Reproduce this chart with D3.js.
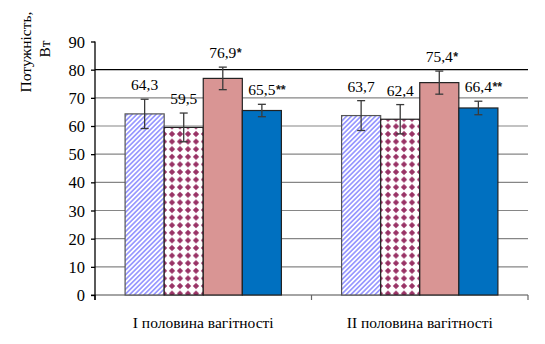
<!DOCTYPE html>
<html>
<head>
<meta charset="utf-8">
<script src="https://cdn.jsdelivr.net/npm/d3@7"></script>
<style>
  html, body { margin: 0; padding: 0; background: #fff; }
</style>
</head>
<body>
<svg id="chart" width="545" height="344"></svg>
<script>
// ---- data ----
const categories = ["І половина вагітності", "ІІ половина вагітності"];
const seriesNames = ["s1", "s2", "s3", "s4"];
const series1 = [64.3, 63.7];
const series2 = [59.5, 62.4];
const series3 = [76.9, 75.4];
const series4 = [65.5, 66.4];
const errors1 = [5.2, 5.3];
const errors2 = [5.1, 5.2];
const errors3 = [4.0, 4.1];
const errors4 = [2.2, 2.4];
const marks1 = ["", ""];
const marks2 = ["", ""];
const marks3 = ["*", "*"];
const marks4 = ["**", "**"];
const yTicks = [0, 10, 20, 30, 40, 50, 60, 70, 80, 90];
const yTitle = ["Потужність,", "Вт"];

const values = [series1, series2, series3, series4];
const errors = [errors1, errors2, errors3, errors4];
const marks = [marks1, marks2, marks3, marks4];

const SERIF = '"Liberation Serif"';
const SANS = '"Liberation Sans"';

const svg = d3.select("#chart");
const defs = svg.append("defs");

// patterns
const p1 = defs.append("pattern").attr("id", "stripes").attr("patternUnits", "userSpaceOnUse")
  .attr("width", 3.4).attr("height", 4).attr("patternTransform", "rotate(45)");
p1.append("rect").attr("width", 3.4).attr("height", 4).attr("fill", "#fff");
p1.append("rect").attr("width", 1.7).attr("height", 4).attr("fill", "#9999ff");

const p2 = defs.append("pattern").attr("id", "diamonds").attr("patternUnits", "userSpaceOnUse")
  .attr("width", 8).attr("height", 7.6).attr("x", 0).attr("y", 1);
p2.append("rect").attr("width", 8).attr("height", 7.6).attr("fill", "#fff");
p2.append("path").attr("d", "M4,0.6 L7.2,3.8 L4,7 L0.8,3.8 Z").attr("fill", "#993366");

const fills = ["url(#stripes)", "url(#diamonds)", "#d99594", "#0070c0"];

// scales
const y = d3.scaleLinear().domain([0, 90]).range([295, 41.5]);
const x0 = d3.scaleBand().domain(categories).range([95, 528]).padding(0);
const bw = x0.bandwidth();
const x1 = d3.scaleBand().domain(seriesNames).range([bw * 0.139, bw * 0.861]).padding(0);

// gridlines
const grid = svg.append("g");
yTicks.filter(t => t > 0 && t < 90).forEach(t => {
  grid.append("line")
    .attr("x1", 95).attr("x2", 528)
    .attr("y1", y(t)).attr("y2", y(t))
    .attr("stroke", t === 80 ? "#000" : "#868686")
    .attr("stroke-width", 1.2);
});

// x axis
const xAxis = d3.axisBottom(x0).tickSize(0).tickFormat("");
const xg = svg.append("g").attr("transform", `translate(0,${y(0)})`).call(xAxis);
xg.select(".domain").remove();
xg.append("line").attr("x1", 91).attr("x2", 528).attr("y1", 0).attr("y2", 0)
  .attr("stroke", "#868686").attr("stroke-width", 1.3);
const bounds = [95].concat(categories.map(c => x0(c) + bw));
bounds.forEach(b => {
  xg.append("line").attr("x1", b).attr("x2", b).attr("y1", 0).attr("y2", 5)
    .attr("stroke", b === 95 ? "#000" : "#666").attr("stroke-width", 1.2);
});
categories.forEach(c => {
  svg.append("text")
    .attr("x", x0(c) + bw / 2).attr("y", 328)
    .attr("text-anchor", "middle")
    .style("font-family", SERIF)
    .attr("font-size", 15.5)
    .attr("fill", "#000")
    .text(c);
});

// bars
categories.forEach((c, ci) => {
  seriesNames.forEach((s, si) => {
    const v = values[si][ci];
    const bx = x0(c) + x1(s);
    svg.append("rect")
      .attr("x", bx).attr("y", y(v))
      .attr("width", x1.bandwidth()).attr("height", y(0) - y(v))
      .attr("fill", fills[si])
      .attr("stroke", si === 0 ? "#555" : "#222")
      .attr("stroke-width", 1.2);
  });
});

// y axis
const yAxis = d3.axisLeft(y).tickValues(yTicks).tickSize(4).tickPadding(6).tickFormat(d3.format("d"));
const yg = svg.append("g").attr("transform", "translate(95,0)").call(yAxis);
yg.select(".domain").remove();
yg.append("line").attr("x1", 0).attr("x2", 0).attr("y1", y(90)).attr("y2", y(0) + 5)
  .attr("stroke", "#000").attr("stroke-width", 1.3);
yg.selectAll(".tick line").attr("stroke", "#000").attr("stroke-width", 1.3);
yg.selectAll(".tick text")
  .style("font-family", SERIF)
  .attr("font-size", 16.5).attr("fill", "#000").attr("dy", "0.34em");

// error bars and labels
categories.forEach((c, ci) => {
  seriesNames.forEach((s, si) => {
    const v = values[si][ci];
    const e = errors[si][ci];
    const cx = x0(c) + x1(s) + x1.bandwidth() / 2;
    const g = svg.append("g").attr("stroke", "#3a3a3a").attr("stroke-width", 1.3);
    g.append("line").attr("x1", cx).attr("x2", cx).attr("y1", y(v + e)).attr("y2", y(v - e));
    g.append("line").attr("x1", cx - 4).attr("x2", cx + 4).attr("y1", y(v + e)).attr("y2", y(v + e));
    g.append("line").attr("x1", cx - 4).attr("x2", cx + 4).attr("y1", y(v - e)).attr("y2", y(v - e));

    const ly = y(v + e) - 9;
    const numTxt = d3.format(".1f")(v).replace(".", ",");
    const t = svg.append("text")
      .attr("x", cx).attr("y", ly)
      .attr("text-anchor", "middle")
      .style("font-family", SERIF)
      .attr("font-size", 15.5).attr("fill", "#000")
      .text(numTxt);
    const m = marks[si][ci];
    if (m) {
      const w = t.node().getComputedTextLength();
      svg.append("text")
        .attr("x", cx + w / 2 + 0.5).attr("y", ly - 1)
        .style("font-family", SANS)
        .attr("font-weight", "bold")
        .attr("font-size", 12.5).attr("fill", "#1a1a1a")
        .text(m);
    }
  });
});

// y title
const title = svg.append("text").attr("font-size", 15.5).attr("fill", "#000")
  .style("font-family", SERIF)
  .attr("text-anchor", "middle");
title.append("tspan").attr("x", 0).attr("y", 0).text(yTitle[0]);
title.append("tspan").attr("x", 3).attr("y", 19).text(yTitle[1]);
title.attr("transform", "translate(31,52) rotate(-90)");
</script>
</body>
</html>
